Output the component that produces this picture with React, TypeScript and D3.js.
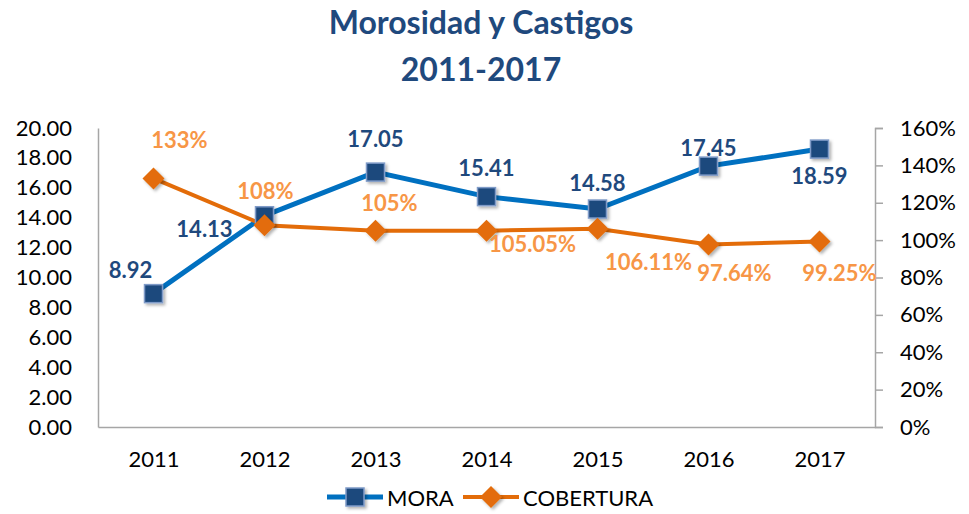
import React, { useEffect, useRef } from 'react'
import * as d3 from 'd3'

// data
const years = ['2011', '2012', '2013', '2014', '2015', '2016', '2017']
const mora = [8.92, 14.13, 17.05, 15.41, 14.58, 17.45, 18.59]
const cobertura = [1.33, 1.08, 1.05, 1.0505, 1.0611, 0.9764, 0.9925]
const coberturaLabels = ['133%', '108%', '105%', '105.05%', '106.11%', '97.64%', '99.25%']
const leftTicks = [0, 2, 4, 6, 8, 10, 12, 14, 16, 18, 20]
const rightTicks = [0, 0.2, 0.4, 0.6, 0.8, 1, 1.2, 1.4, 1.6]

// label offsets (dx, dy from the point)
const moraOffsets = [[-23, -24], [-60, 13], [0, -34], [0, -29], [0, -27], [0, -19], [0, 26]]
const cobOffsets = [[26, -39], [1, -35], [14, -28], [46, 13], [51, 33], [26, 28], [20, 31]]

const FONT = 'Lato, "Open Sans", sans-serif'

export default function App() {
  const ref = useRef<SVGSVGElement>(null)

  useEffect(() => {
    const svg = d3.select(ref.current)
    svg.selectAll('*').remove()

    const width = 969
    const height = 514
    const margin = { top: 128, left: 98, right: 94, bottom: 87 }

    const x = d3.scalePoint()
      .domain(years)
      .range([margin.left, width - margin.right])
      .padding(0.5)
    const yL = d3.scaleLinear().domain([0, 20]).range([height - margin.bottom, margin.top])
    const yR = d3.scaleLinear().domain([0, 1.6]).range([height - margin.bottom, margin.top])

    const defs = svg.append('defs')
    const f = defs.append('filter').attr('id', 'shadow')
      .attr('x', '-50%').attr('y', '-50%').attr('width', '200%').attr('height', '200%')
    f.append('feDropShadow').attr('dx', 2).attr('dy', 2).attr('stdDeviation', 1.5)
      .attr('flood-color', '#000').attr('flood-opacity', 0.3)

    // title
    const title = svg.append('text')
      .attr('x', 481).attr('text-anchor', 'middle')
      .attr('font-family', FONT).attr('font-weight', 'bold')
      .attr('font-size', 32).attr('fill', '#1F497D')
    title.append('tspan').attr('x', 481).attr('y', 34).text('Morosidad y Castigos')
    title.append('tspan').attr('x', 481).attr('y', 81).text('2011-2017')

    // left axis
    const left = svg.append('g').attr('transform', `translate(${margin.left},0)`)
      .call(d3.axisLeft(yL).tickValues(leftTicks).tickFormat(d3.format('.2f')).tickSize(0).tickPadding(26))
    left.select('.domain').attr('stroke', '#A6A6A6').attr('stroke-width', 1.5)
    left.selectAll('text').attr('font-family', FONT).attr('font-size', 22).attr('fill', '#000')

    // right axis
    const right = svg.append('g').attr('transform', `translate(${width - margin.right},0)`)
      .call(d3.axisRight(yR).tickValues(rightTicks).tickFormat(d3.format('.0%')).tickSize(8).tickPadding(17))
    right.select('.domain').attr('stroke', '#A6A6A6').attr('stroke-width', 1.5)
    right.selectAll('line').attr('stroke', '#A6A6A6').attr('stroke-width', 1.5)
    right.selectAll('text').attr('font-family', FONT).attr('font-size', 22).attr('fill', '#000')

    // bottom axis
    const bottom = svg.append('g').attr('transform', `translate(0,${height - margin.bottom})`)
      .call(d3.axisBottom(x).tickSize(0).tickPadding(24).tickSizeOuter(0))
    bottom.select('.domain').attr('stroke', '#A6A6A6').attr('stroke-width', 1.5)
    bottom.selectAll('text').attr('font-family', FONT).attr('font-size', 22).attr('fill', '#000')

    // lines
    const moraLine = d3.line<number>().x((d, i) => x(years[i])!).y(d => yL(d))
    const cobLine = d3.line<number>().x((d, i) => x(years[i])!).y(d => yR(d))

    svg.append('path').datum(mora).attr('d', moraLine)
      .attr('fill', 'none').attr('stroke', '#0070C0').attr('stroke-width', 5)
    svg.append('path').datum(cobertura).attr('d', cobLine)
      .attr('fill', 'none').attr('stroke', '#E36C09').attr('stroke-width', 4)

    const square = (g: any, cx: number, cy: number) => {
      g.append('rect').attr('x', cx - 9).attr('y', cy - 9).attr('width', 18).attr('height', 18)
        .attr('fill', '#1F497D').attr('stroke', '#7F9BC8').attr('stroke-width', 1.5)
        .attr('filter', 'url(#shadow)')
    }
    const diamond = (g: any, cx: number, cy: number) => {
      g.append('path').attr('d', `M${cx},${cy - 11}L${cx + 11},${cy}L${cx},${cy + 11}L${cx - 11},${cy}Z`)
        .attr('fill', '#E36C09').attr('filter', 'url(#shadow)')
    }

    mora.forEach((v, i) => square(svg, x(years[i])!, yL(v)))
    cobertura.forEach((v, i) => diamond(svg, x(years[i])!, yR(v)))

    // labels
    mora.forEach((v, i) => {
      svg.append('text')
        .attr('x', x(years[i])! + moraOffsets[i][0]).attr('y', yL(v) + moraOffsets[i][1])
        .attr('text-anchor', 'middle').attr('dominant-baseline', 'central')
        .attr('font-family', FONT).attr('font-weight', 'bold').attr('font-size', 22)
        .attr('fill', '#1F497D').text(v.toFixed(2))
    })
    cobertura.forEach((v, i) => {
      svg.append('text')
        .attr('x', x(years[i])! + cobOffsets[i][0]).attr('y', yR(v) + cobOffsets[i][1])
        .attr('text-anchor', 'middle').attr('dominant-baseline', 'central')
        .attr('font-family', FONT).attr('font-weight', 'bold').attr('font-size', 22)
        .attr('fill', '#F79646').text(coberturaLabels[i])
    })

    // legend
    const ly = 497
    svg.append('line').attr('x1', 327).attr('x2', 383).attr('y1', ly).attr('y2', ly)
      .attr('stroke', '#0070C0').attr('stroke-width', 5)
    square(svg, 355, ly)
    svg.append('text').attr('x', 387).attr('y', ly).attr('dominant-baseline', 'central')
      .attr('font-family', FONT).attr('font-size', 22).attr('fill', '#000').text('MORA')
    svg.append('line').attr('x1', 463).attr('x2', 519).attr('y1', ly).attr('y2', ly)
      .attr('stroke', '#E36C09').attr('stroke-width', 4)
    diamond(svg, 491, ly)
    svg.append('text').attr('x', 523).attr('y', ly).attr('dominant-baseline', 'central')
      .attr('font-family', FONT).attr('font-size', 22).attr('fill', '#000').text('COBERTURA')
  }, [])

  return (
    <svg ref={ref} width={969} height={514}
      style={{ position: 'absolute', left: 0, top: 0, background: '#fff' }} />
  )
}
